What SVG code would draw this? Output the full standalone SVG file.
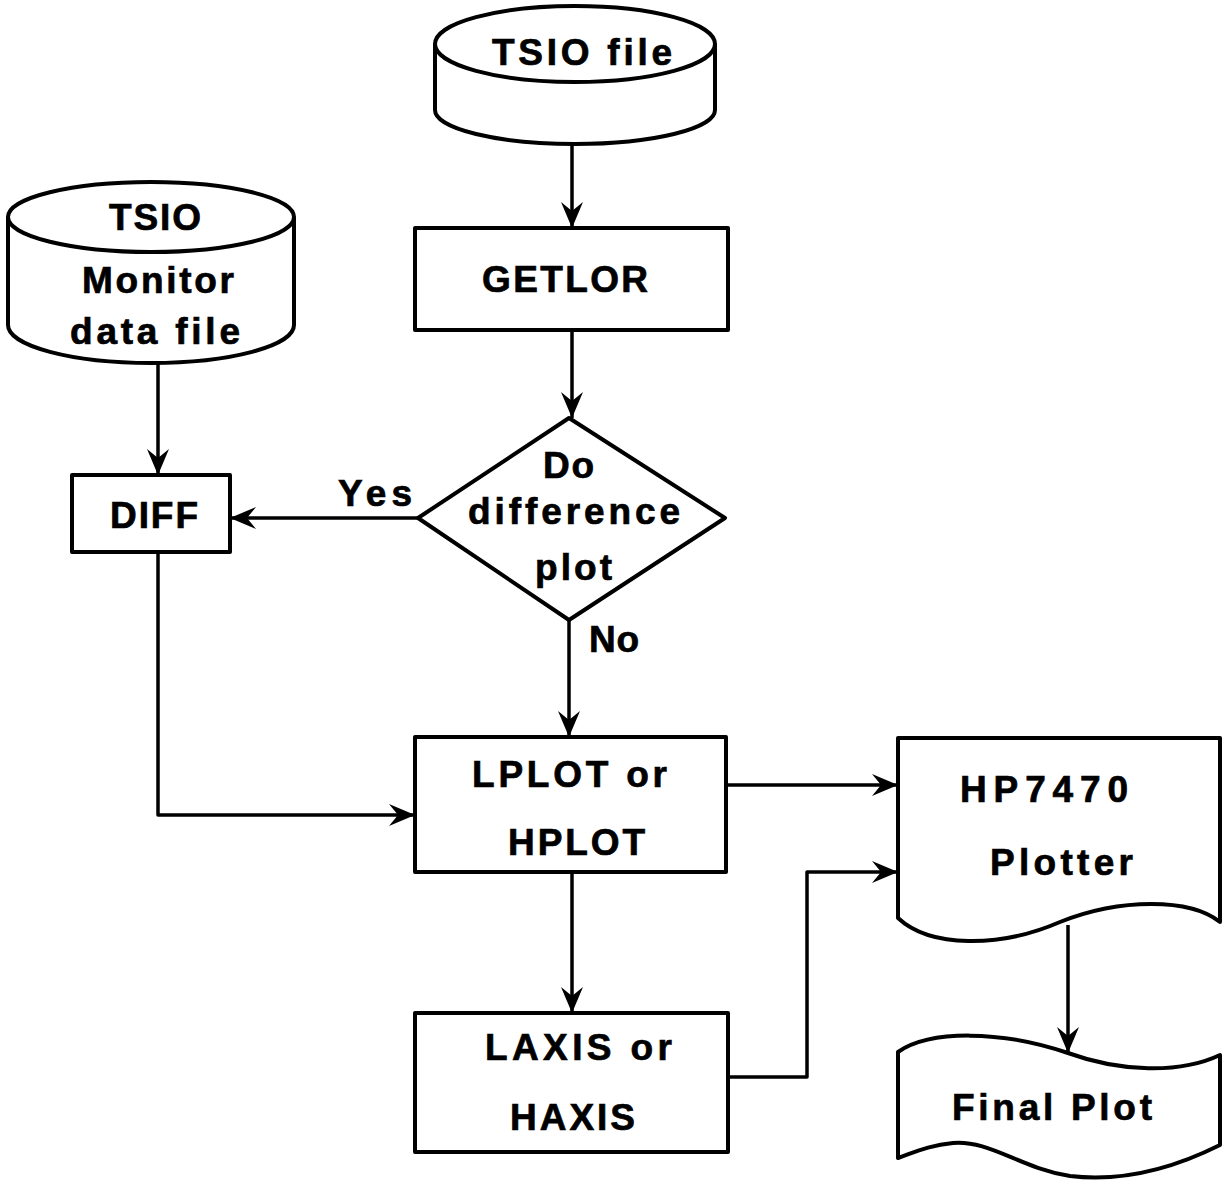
<svg xmlns="http://www.w3.org/2000/svg" width="1224" height="1182" viewBox="0 0 1224 1182">
<defs>
<style>
.s{fill:#fff;stroke:#000;stroke-width:4;stroke-linejoin:round}
.c{fill:none;stroke:#000;stroke-width:3.5;stroke-linejoin:round}
.t{font-family:"Liberation Sans",Arial,sans-serif;font-weight:bold;font-size:37px;fill:#000;stroke:#000;stroke-width:0.7}
</style>
<marker id="ah" viewBox="-28 -12 30 24" refX="0" refY="0" markerWidth="30" markerHeight="24" markerUnits="userSpaceOnUse" orient="auto">
<path d="M0,0 L-26,-11 L-17,0 L-26,11 Z" fill="#000"/>
</marker>
</defs>
<rect width="1224" height="1182" fill="#fff"/>

<g id="connectors">
<path class="c" d="M572,143 V228" marker-end="url(#ah)"/>
<path class="c" d="M572,330 V418" marker-end="url(#ah)"/>
<path class="c" d="M418,518 H230" marker-end="url(#ah)"/>
<path class="c" d="M569,620 V737" marker-end="url(#ah)"/>
<path class="c" d="M158,363 V475" marker-end="url(#ah)"/>
<path class="c" d="M158,552 V815 H415" marker-end="url(#ah)"/>
<path class="c" d="M726,785 H898" marker-end="url(#ah)"/>
<path class="c" d="M572,872 V1013" marker-end="url(#ah)"/>
<path class="c" d="M728,1077 H807 V872 H898" marker-end="url(#ah)"/>
<path class="c" d="M1068,925 V1053" marker-end="url(#ah)"/>
<text class="t" x="338" y="506" textLength="74" lengthAdjust="spacing">Yes</text>
<text class="t" x="589" y="652" textLength="50" lengthAdjust="spacing">No</text>
</g>

<g id="tsio-file">
<path class="s" d="M435,44 V110 A140,34 0 0 0 715,110 V44"/>
<ellipse class="s" cx="575" cy="44" rx="140" ry="38"/>
<text class="t" x="492" y="65" font-size="39" textLength="180" lengthAdjust="spacing">TSIO file</text>
</g>

<g id="tsio-monitor">
<path class="s" d="M8,217 V325 A143,38 0 0 0 294,325 V217"/>
<ellipse class="s" cx="151" cy="217" rx="143" ry="35"/>
<text class="t" x="109" y="230" textLength="92" lengthAdjust="spacing">TSIO</text>
<text class="t" x="82" y="293" textLength="152" lengthAdjust="spacing">Monitor</text>
<text class="t" x="70" y="344" textLength="170" lengthAdjust="spacing">data file</text>
</g>

<g id="getlor">
<rect class="s" x="415" y="228" width="313" height="102"/>
<text class="t" x="482" y="292" textLength="166" lengthAdjust="spacing">GETLOR</text>
</g>

<g id="decision">
<path class="s" d="M569,418 L725,518 L569,620 L418,518 Z"/>
<text class="t" x="543" y="478" textLength="51" lengthAdjust="spacing">Do</text>
<text class="t" x="468" y="524" textLength="212" lengthAdjust="spacing">difference</text>
<text class="t" x="535" y="580" textLength="77" lengthAdjust="spacing">plot</text>
</g>

<g id="diff">
<rect class="s" x="72" y="475" width="158" height="77"/>
<text class="t" x="110" y="528" textLength="88" lengthAdjust="spacing">DIFF</text>
</g>

<g id="lplot">
<rect class="s" x="415" y="737" width="311" height="135"/>
<text class="t" x="472" y="787" textLength="195" lengthAdjust="spacing">LPLOT or</text>
<text class="t" x="508" y="855" textLength="137" lengthAdjust="spacing">HPLOT</text>
</g>

<g id="laxis">
<rect class="s" x="415" y="1013" width="313" height="139"/>
<text class="t" x="485" y="1060" textLength="187" lengthAdjust="spacing">LAXIS or</text>
<text class="t" x="510" y="1130" textLength="125" lengthAdjust="spacing">HAXIS</text>
</g>

<g id="hp7470">
<path class="s" d="M898,738 H1220 V922 C1190,898 1120,898 1060,922 C1000,948 930,948 898,918 Z"/>
<text class="t" x="960" y="802" textLength="168" lengthAdjust="spacing">HP7470</text>
<text class="t" x="990" y="875" textLength="143" lengthAdjust="spacing">Plotter</text>
</g>

<g id="final-plot">
<path class="s" d="M898,1052 C930,1030 1000,1030 1068,1053 C1120,1072 1180,1074 1220,1055 V1145 C1170,1170 1120,1182 1070,1176 C1020,1168 990,1140 953,1143 C930,1145 915,1152 898,1158 Z"/>
<text class="t" x="952" y="1120" textLength="200" lengthAdjust="spacing">Final Plot</text>
</g>
</svg>
